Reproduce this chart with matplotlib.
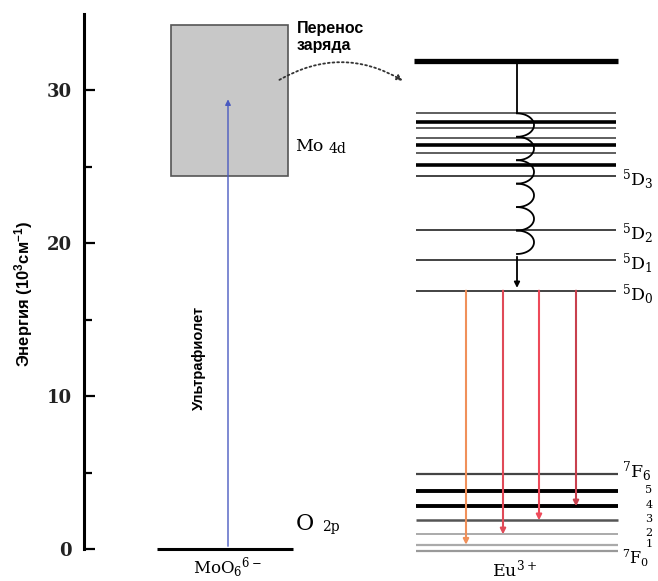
import numpy as np
import matplotlib
matplotlib.use("Agg")
from matplotlib import pyplot as plt
from matplotlib.patches import Rectangle

# energies in 10^3 cm^-1
y_ticks = [0, 10, 20, 30]
y_minor = [5, 15, 25]
mo_4d_band = [24.4, 34.3]
o_2p_level = 0.0
uv_top = 29.6
ct_level = 31.95
eu_upper = [28.5, 27.95, 27.55, 26.9, 26.4, 25.9, 25.15]
eu_upper_thick = [False, True, False, False, True, False, True]
d_names = ['3', '2', '1', '0']
d_levels = [24.4, 20.9, 18.9, 16.9]
f_names = ['6', '5', '4', '3', '2', '1', '0']
f_levels = [4.88, 3.77, 2.79, 1.88, 0.96, 0.28, -0.1]
emission_to = ['1', '2', '3', '4']
coil_bottom = 19.3
n_coils = 6

plt.rcParams['mathtext.default'] = 'regular'
SERIF = 'DejaVu Serif'
SANS = 'Liberation Sans'

fig = plt.figure(figsize=(6.58, 5.81), dpi=100)
ax = fig.add_axes([0, 0, 1, 1])
ax.set_xlim(0, 658)
ax.set_ylim(-2.093, 35.915)

# axis
for s in ['top', 'right', 'bottom']:
    ax.spines[s].set_visible(False)
ax.spines['left'].set_position(('data', 84))
ax.spines['left'].set_bounds(0, 35)
ax.spines['left'].set_linewidth(2.2)
ax.xaxis.set_visible(False)
ax.set_yticks(y_ticks)
ax.set_yticks(y_minor, minor=True)
ax.tick_params(axis='y', which='major', direction='in', length=8, width=1.6,
               pad=8.5, labelsize=13, labelfontfamily=SERIF, labelcolor='#222222')
ax.tick_params(axis='y', which='minor', direction='in', length=6, width=1.6)
for lab in ax.get_yticklabels():
    lab.set_fontweight('bold')
ax.text(24, 16.7, 'Энергия (10$^3$см$^{-1}$)', rotation=90, ha='center', va='center',
        fontsize=12, fontweight='bold', family=SANS)

# MoO6 side
ax.add_patch(Rectangle((171, mo_4d_band[0]), 117, mo_4d_band[1] - mo_4d_band[0],
                       facecolor='#c8c8c8', edgecolor='#555555', lw=1.2))
ax.hlines(o_2p_level, 157, 293, color='black', lw=2.2)
ax.annotate('', xy=(228, uv_top), xytext=(228, o_2p_level),
            arrowprops=dict(arrowstyle='-|>', color='#4a5ac0', lw=1.0, mutation_scale=8))
ax.text(199, 12.5, 'Ультрафиолет', rotation=90, ha='center', va='center',
        fontsize=10.5, fontweight='bold', family=SANS)
ax.text(295, 26.3, 'Mo', ha='left', va='center', fontsize=12.5, family=SERIF)
ax.text(329, 26.2, '4d', ha='left', va='center', fontsize=10, family=SERIF)
ax.text(296, 1.65, 'O', ha='left', va='center', fontsize=16, family=SERIF)
ax.text(322, 1.45, '2p', ha='left', va='center', fontsize=10, family=SERIF)
ax.text(228, -1.2, 'MoO$_6$$^{6-}$', ha='center', va='center', fontsize=12, family=SERIF)

# charge transfer
ax.text(297, 33.5, 'Перенос\nзаряда', ha='left', va='center', fontsize=11.5,
        fontweight='bold', family=SANS, linespacing=1.1)
ax.annotate('', xy=(405, 30.55), xytext=(277, 30.6),
            arrowprops=dict(arrowstyle='-|>', color='#333333', lw=1.3, ls=(0, (1, 1.6)),
                            connectionstyle='arc3,rad=-0.3', mutation_scale=8))

# Eu3+ levels
ax.hlines(ct_level, 414, 618, color='black', lw=3.8)
for y, thick in zip(eu_upper, eu_upper_thick):
    ax.hlines(y, 416, 616, color='black' if thick else '#333333', lw=2.6 if thick else 1.1)
for name, y in zip(d_names, d_levels):
    ax.hlines(y, 416, 616, color='#222222', lw=1.2)
    ax.text(622, y - 0.25, '$^5$D$_%s$' % name, ha='left', va='center',
            fontsize=12.5, family=SERIF)

f_styles = {'6': ('#444444', 1.6), '5': ('black', 2.8), '4': ('black', 2.8),
            '3': ('#555555', 1.8), '2': ('#aaaaaa', 1.4), '1': ('#aaaaaa', 1.6),
            '0': ('#999999', 1.6)}
for name, y in zip(f_names, f_levels):
    c, lw = f_styles[name]
    ax.hlines(y, 416, 618, color=c, lw=lw)
    if name == '6':
        ax.text(622, y + 0.2, '$^7$F$_6$', ha='left', va='center', fontsize=12.5, family=SERIF)
    elif name == '0':
        ax.text(622, y - 0.5, '$^7$F$_0$', ha='left', va='center', fontsize=11.5, family=SERIF)
    else:
        ax.text(649, y + 0.08, name, ha='center', va='center', fontsize=8, family=SERIF)
ax.text(515, -1.35, 'Eu$^{3+}$', ha='center', va='center', fontsize=12.5, family=SERIF)

# relaxation: straight drop, coil, arrow to 5D0
x0 = 517
ax.plot([x0, x0], [ct_level, eu_upper[0]], color='black', lw=1.3)
ry = (eu_upper[0] - coil_bottom) / (2 * n_coils)
th = np.linspace(np.pi / 2, -np.pi / 2, 40)
for k in range(n_coils):
    yc = eu_upper[0] - ry * (2 * k + 1)
    ax.plot(x0 + 17 * np.cos(th), yc + ry * np.sin(th), color='black', lw=1.3)
ax.annotate('', xy=(x0, d_levels[-1]), xytext=(x0, coil_bottom),
            arrowprops=dict(arrowstyle='-|>', color='black', lw=1.3, mutation_scale=8))

# emission 5D0 -> 7FJ
em_x = [466, 503, 539, 576]
em_colors = ['#f0905a', '#e04a58', '#ee4a5a', '#c8404e']
for x, j, c in zip(em_x, emission_to, em_colors):
    ax.annotate('', xy=(x, f_levels[f_names.index(j)]), xytext=(x, d_levels[-1]),
                arrowprops=dict(arrowstyle='-|>', color=c, lw=1.5, mutation_scale=8,
                                shrinkA=0, shrinkB=0))

fig.savefig('out.png', dpi=100)
